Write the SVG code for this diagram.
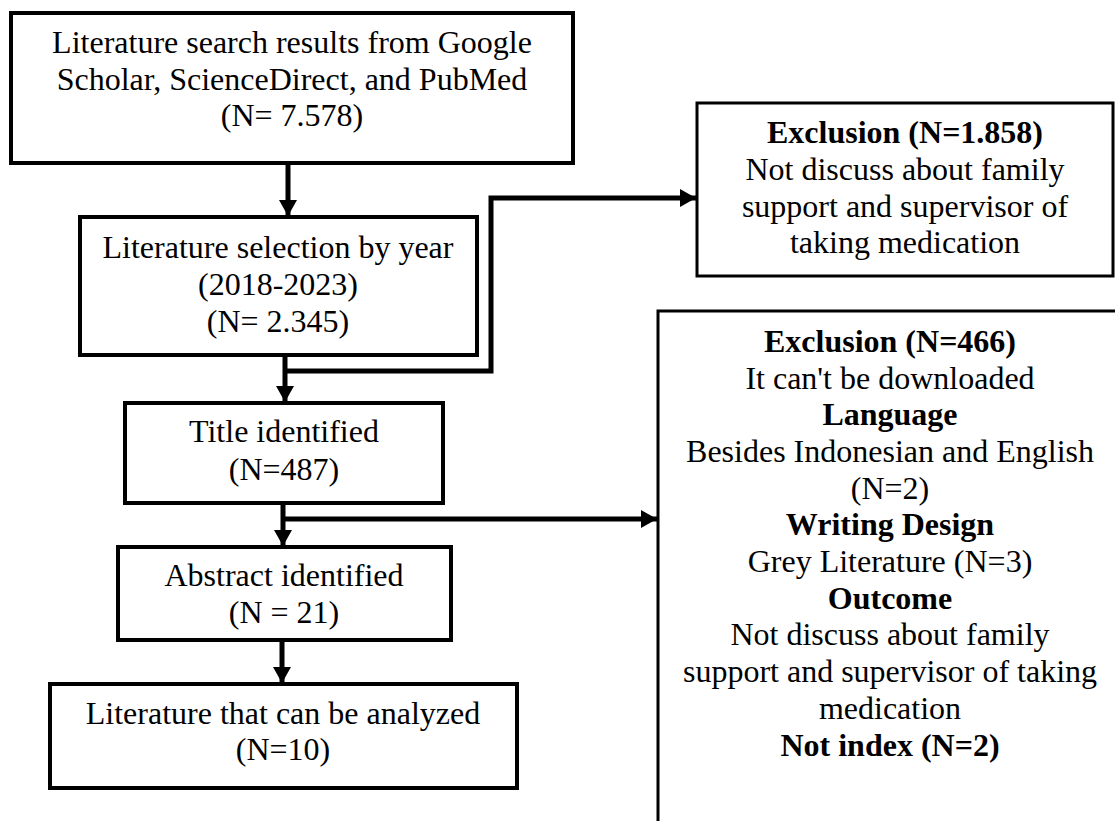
<svg xmlns="http://www.w3.org/2000/svg" width="1115" height="821" viewBox="0 0 1115 821">
<style>
  .box { fill: #fff; stroke: #000; stroke-width: 4; }
  .rbox { fill: #fff; stroke: #000; stroke-width: 3; }
  text { font-family: "Liberation Serif", "Times New Roman", serif; font-size: 32px; fill: #000; text-anchor: middle; }
  .b { font-weight: bold; }
  .conn { fill: none; stroke: #000; stroke-width: 5; stroke-linejoin: miter; }
</style>
<defs>
  <marker id="arr" markerUnits="userSpaceOnUse" markerWidth="18" markerHeight="18" viewBox="0 0 16 18" refX="16" refY="9" orient="auto">
    <path d="M0,0 L16,9 L0,18 Z" fill="#000"/>
  </marker>
</defs>
<rect width="1115" height="821" fill="#fff"/>

<g id="connectors">
  <line class="conn" x1="288" y1="163" x2="288" y2="216" marker-end="url(#arr)"/>
  <line class="conn" x1="285" y1="355" x2="285" y2="402" marker-end="url(#arr)"/>
  <polyline class="conn" points="285,371 491,371 491,198 696,198" marker-end="url(#arr)"/>
  <line class="conn" x1="283" y1="503" x2="283" y2="546" marker-end="url(#arr)"/>
  <line class="conn" x1="283" y1="519" x2="657" y2="519" marker-end="url(#arr)"/>
  <line class="conn" x1="282" y1="640" x2="282" y2="683" marker-end="url(#arr)"/>
</g>

<g id="search">
  <rect class="box" x="11" y="13" width="562" height="150"/>
  <text x="292" y="53">Literature search results from Google</text>
  <text x="292" y="90">Scholar, ScienceDirect, and PubMed</text>
  <text x="292" y="126">(N= 7.578)</text>
</g>

<g id="year">
  <rect class="box" x="80" y="217" width="397" height="138"/>
  <text x="278" y="258">Literature selection by year</text>
  <text x="278" y="295">(2018-2023)</text>
  <text x="278" y="332">(N= 2.345)</text>
</g>

<g id="title">
  <rect class="box" x="125" y="403" width="318" height="100"/>
  <text x="284" y="442">Title identified</text>
  <text x="284" y="480">(N=487)</text>
</g>

<g id="abstract">
  <rect class="box" x="118" y="547" width="333" height="93"/>
  <text x="284" y="586">Abstract identified</text>
  <text x="284" y="623">(N = 21)</text>
</g>

<g id="analyzed">
  <rect class="box" x="50" y="684" width="467" height="104"/>
  <text x="283" y="724">Literature that can be analyzed</text>
  <text x="283" y="760">(N=10)</text>
</g>

<g id="exclusion1">
  <rect class="rbox" x="697" y="103" width="416" height="173"/>
  <text class="b" x="905" y="143">Exclusion (N=1.858)</text>
  <text x="905" y="180">Not discuss about family</text>
  <text x="905" y="217">support and supervisor of</text>
  <text x="905" y="253">taking medication</text>
</g>

<g id="exclusion2">
  <rect class="rbox" x="658" y="311" width="520" height="600"/>
  <text class="b" x="890" y="352">Exclusion (N=466)</text>
  <text x="890" y="389">It can't be downloaded</text>
  <text class="b" x="890" y="425">Language</text>
  <text x="890" y="462">Besides Indonesian and English</text>
  <text x="890" y="499">(N=2)</text>
  <text class="b" x="890" y="535">Writing Design</text>
  <text x="890" y="572">Grey Literature (N=3)</text>
  <text class="b" x="890" y="609">Outcome</text>
  <text x="890" y="645">Not discuss about family</text>
  <text x="890" y="682">support and supervisor of taking</text>
  <text x="890" y="719">medication</text>
  <text class="b" x="890" y="756">Not index (N=2)</text>
</g>
</svg>
